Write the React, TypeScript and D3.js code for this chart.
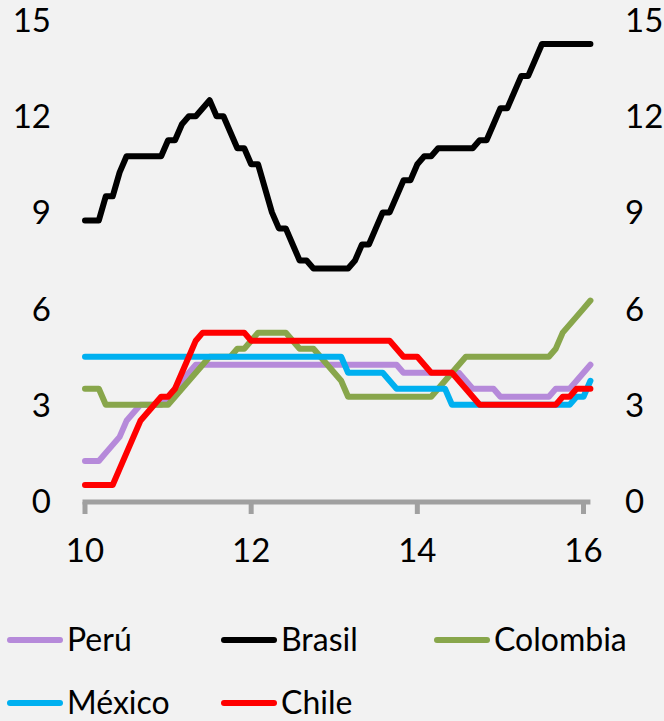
import React from 'react';
import * as d3 from 'd3';

// monthly policy rates, Jan 2010 .. Feb 2016
const peru = [
  1.25, 1.25, 1.25, 1.5, 1.75, 2.0, 2.5, 2.75, 3.0, 3.0, 3.0, 3.0,
  3.25, 3.5, 3.75, 4.0, 4.25, 4.25, 4.25, 4.25, 4.25, 4.25, 4.25, 4.25,
  4.25, 4.25, 4.25, 4.25, 4.25, 4.25, 4.25, 4.25, 4.25, 4.25, 4.25, 4.25,
  4.25, 4.25, 4.25, 4.25, 4.25, 4.25, 4.25, 4.25, 4.25, 4.25, 4.0, 4.0,
  4.0, 4.0, 4.0, 4.0, 4.0, 4.0, 4.0, 3.75, 3.5, 3.5, 3.5, 3.5,
  3.25, 3.25, 3.25, 3.25, 3.25, 3.25, 3.25, 3.25, 3.5, 3.5, 3.5, 3.75,
  4.0, 4.25,
];
const brasil = [
  8.75, 8.75, 8.75, 9.5, 9.5, 10.25, 10.75, 10.75, 10.75, 10.75, 10.75, 10.75,
  11.25, 11.25, 11.75, 12.0, 12.0, 12.25, 12.5, 12.0, 12.0, 11.5, 11.0, 11.0,
  10.5, 10.5, 9.75, 9.0, 8.5, 8.5, 8.0, 7.5, 7.5, 7.25, 7.25, 7.25,
  7.25, 7.25, 7.25, 7.5, 8.0, 8.0, 8.5, 9.0, 9.0, 9.5, 10.0, 10.0,
  10.5, 10.75, 10.75, 11.0, 11.0, 11.0, 11.0, 11.0, 11.0, 11.25, 11.25, 11.75,
  12.25, 12.25, 12.75, 13.25, 13.25, 13.75, 14.25, 14.25, 14.25, 14.25, 14.25, 14.25,
  14.25, 14.25,
];
const colombia = [
  3.5, 3.5, 3.5, 3.0, 3.0, 3.0, 3.0, 3.0, 3.0, 3.0, 3.0, 3.0,
  3.0, 3.25, 3.5, 3.75, 4.0, 4.25, 4.5, 4.5, 4.5, 4.5, 4.75, 4.75,
  5.0, 5.25, 5.25, 5.25, 5.25, 5.25, 5.0, 4.75, 4.75, 4.75, 4.5, 4.25,
  4.0, 3.75, 3.25, 3.25, 3.25, 3.25, 3.25, 3.25, 3.25, 3.25, 3.25, 3.25,
  3.25, 3.25, 3.25, 3.5, 3.75, 4.0, 4.25, 4.5, 4.5, 4.5, 4.5, 4.5,
  4.5, 4.5, 4.5, 4.5, 4.5, 4.5, 4.5, 4.5, 4.75, 5.25, 5.5, 5.75,
  6.0, 6.25,
];
const mexico = [
  4.5, 4.5, 4.5, 4.5, 4.5, 4.5, 4.5, 4.5, 4.5, 4.5, 4.5, 4.5,
  4.5, 4.5, 4.5, 4.5, 4.5, 4.5, 4.5, 4.5, 4.5, 4.5, 4.5, 4.5,
  4.5, 4.5, 4.5, 4.5, 4.5, 4.5, 4.5, 4.5, 4.5, 4.5, 4.5, 4.5,
  4.5, 4.5, 4.0, 4.0, 4.0, 4.0, 4.0, 4.0, 3.75, 3.5, 3.5, 3.5,
  3.5, 3.5, 3.5, 3.5, 3.5, 3.0, 3.0, 3.0, 3.0, 3.0, 3.0, 3.0,
  3.0, 3.0, 3.0, 3.0, 3.0, 3.0, 3.0, 3.0, 3.0, 3.0, 3.0, 3.25,
  3.25, 3.75,
];
const chile = [
  0.5, 0.5, 0.5, 0.5, 0.5, 1.0, 1.5, 2.0, 2.5, 2.75, 3.0, 3.25,
  3.25, 3.5, 4.0, 4.5, 5.0, 5.25, 5.25, 5.25, 5.25, 5.25, 5.25, 5.25,
  5.0, 5.0, 5.0, 5.0, 5.0, 5.0, 5.0, 5.0, 5.0, 5.0, 5.0, 5.0,
  5.0, 5.0, 5.0, 5.0, 5.0, 5.0, 5.0, 5.0, 5.0, 4.75, 4.5, 4.5,
  4.5, 4.25, 4.0, 4.0, 4.0, 4.0, 3.75, 3.5, 3.25, 3.0, 3.0, 3.0,
  3.0, 3.0, 3.0, 3.0, 3.0, 3.0, 3.0, 3.0, 3.0, 3.25, 3.25, 3.5,
  3.5, 3.5,
];

const seriesNames = ['Perú', 'Brasil', 'Colombia', 'México', 'Chile'];
const seriesColors = ['#B68ADA', '#000000', '#88A64B', '#00B0F0', '#FF0000'];
const yTicks = [0, 3, 6, 9, 12, 15];
const xTicks = [10, 12, 14, 16];

const W = 664;
const H = 721;
const FONT = "Lato, 'Open Sans', sans-serif";

export default function App() {
  const allSeries = [peru, brasil, colombia, mexico, chile];
  const x = d3.scaleLinear().domain([10, 16]).range([85, 583.5]);
  const y = d3.scaleLinear().domain([0, 15]).range([501, 20]);
  const monthX = (i: number) => x(10 + i / 12);
  const line = d3.line<number>()
    .x((_, i) => monthX(i))
    .y(d => y(d));

  const nMonths = peru.length;
  const axisY = y(0) + 1;

  // legend slots: [column x, row y]
  const legendPos = [[7, 640], [221, 640], [434, 640], [7, 703], [221, 703]];

  return (
    <svg width={W} height={H} style={{ position: 'absolute', left: 0, top: 0 }}>
      <rect width={W} height={H} fill="#F2F2F2" />

      {/* left and right value labels */}
      {yTicks.map(t => (
        <g key={t} fontFamily={FONT} fontSize={33} fill="#000">
          <text x={51} y={y(t) + 12} textAnchor="end">{t}</text>
          <text x={625} y={y(t) + 12} textAnchor="start">{t}</text>
        </g>
      ))}

      {/* x axis */}
      <line x1={x(10) - 2.5} x2={monthX(nMonths - 1)} y1={axisY} y2={axisY}
        stroke="#A0A0A0" strokeWidth={5} />
      {xTicks.map(t => (
        <g key={t}>
          <line x1={x(t)} x2={x(t)} y1={axisY} y2={axisY + 12} stroke="#A0A0A0" strokeWidth={5} />
          <text x={x(t)} y={562} textAnchor="middle" fontFamily={FONT} fontSize={33}>{t}</text>
        </g>
      ))}

      {/* series */}
      {allSeries.map((s, k) => (
        <path key={seriesNames[k]} d={line(s) || ''} fill="none" stroke={seriesColors[k]}
          strokeWidth={6} strokeLinejoin="round" strokeLinecap="round" />
      ))}

      {/* legend */}
      {seriesNames.map((name, k) => {
        const [lx, ly] = legendPos[k];
        return (
          <g key={name}>
            <line x1={lx + 3} x2={lx + 53} y1={ly} y2={ly} stroke={seriesColors[k]}
              strokeWidth={6} strokeLinecap="round" />
            <text x={lx + 60} y={ly + 11} fontFamily={FONT} fontSize={32}>{name}</text>
          </g>
        );
      })}
    </svg>
  );
}
